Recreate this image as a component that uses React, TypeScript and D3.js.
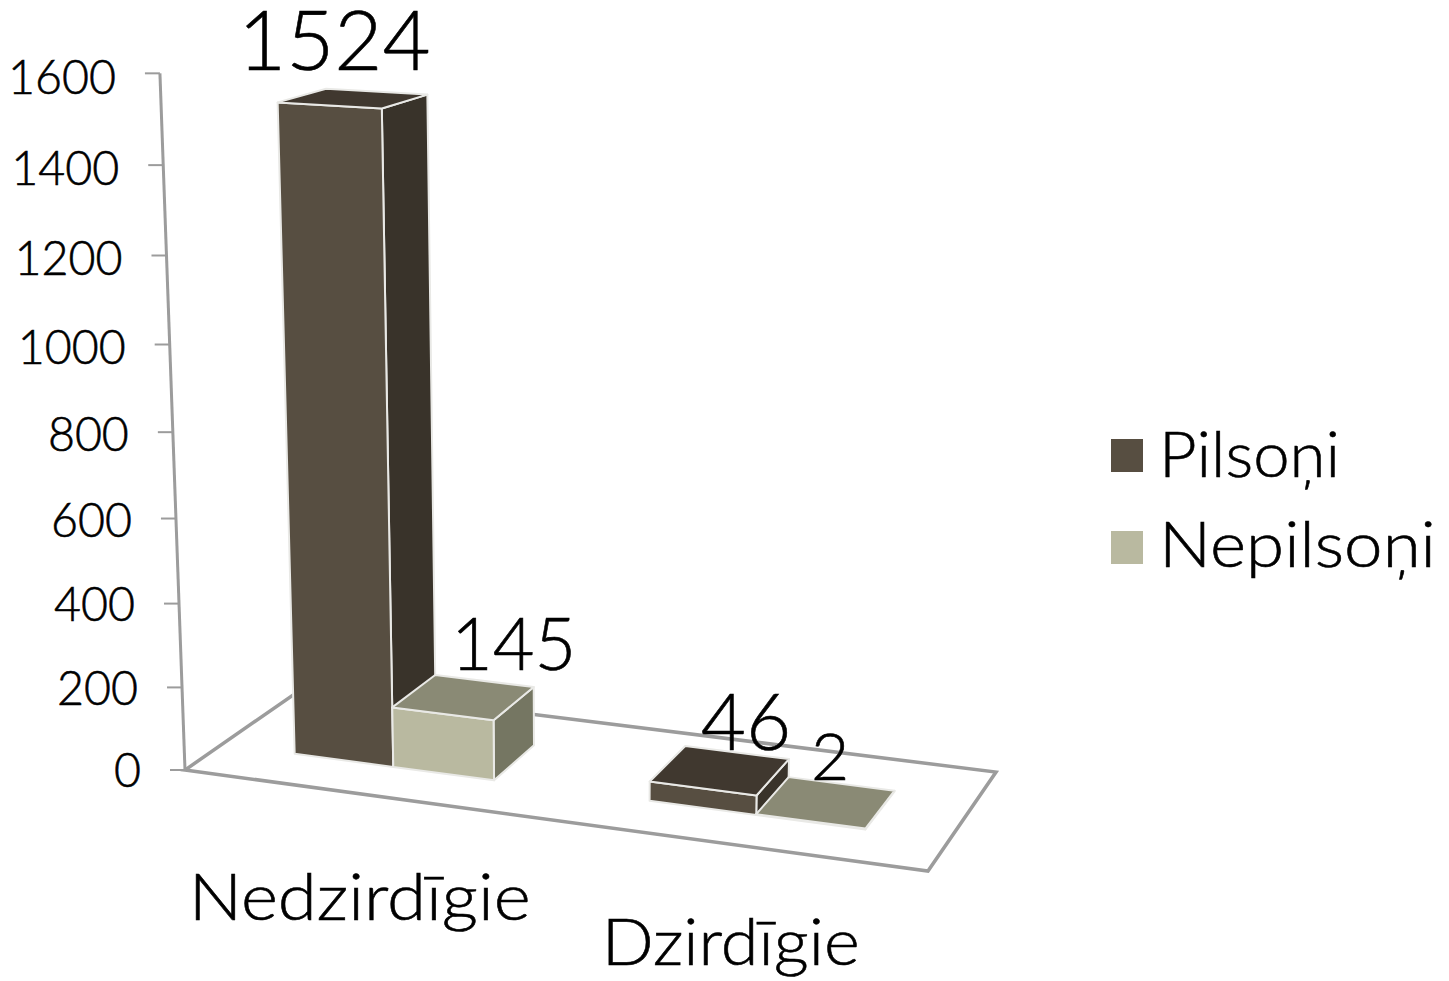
import React from "react";
import * as d3 from "d3";

const categories = ["Nedzirdīgie", "Dzirdīgie"];
const seriesNames = ["Pilsoņi", "Nepilsoņi"];
const pilsoni = [1524, 46];
const nepilsoni = [145, 2];
const seriesValues = [pilsoni, nepilsoni];
const yTicks = [0, 200, 400, 600, 800, 1000, 1200, 1400, 1600];

const FONT = "Lato, 'Noto Sans', sans-serif";

// series styling: front, top, side
const faceColors = [
  { front: "#574e41", top: "#40382f", side: "#39332a" },
  { front: "#b9b9a0", top: "#8a8a75", side: "#757662" },
];

// Perspective camera: floor homography (u,v in 0..1), plus vertical vanishing point
const H = { a: 670.5, b: 146.9, c: 185, d: 33, e: -26, f: 770, g: -0.0781, h: 0.0845 };
const VP: [number, number] = [588, 11970];
const heightK = 3.66e-5;

function project(u: number, v: number, val: number): [number, number] {
  const w = H.g * u + H.h * v + 1;
  const X = H.a * u + H.b * v + H.c;
  const Y = H.d * u + H.e * v + H.f;
  const k = -heightK * val;
  const ww = w + k;
  return [(X + k * VP[0]) / ww, (Y + k * VP[1]) / ww];
}

const catBand = d3.scaleBand<string>().domain(categories).range([0, 1]).padding(0);
const serBand = d3
  .scaleBand<string>()
  .domain(seriesNames)
  .range([0, catBand.bandwidth()])
  .paddingInner(0)
  .paddingOuter(0.75);
const depth = d3.scaleLinear().domain([0, 1]).range([0.29, 0.68]);

const poly = (pts: [number, number][]) => d3.line()(pts) + "Z";

// label nudges relative to the bar's top centre, [series][category]
const labelDx = [
  [-19, 26],
  [50, 4],
];
const labelDy = [
  [-28, -20],
  [-27, -22],
];
const labelSize = [
  [83, 78],
  [72, 66],
];
const catLabelWidth = [342, 258];
const legendWidth = [181, 277];

const textInk = { fill: "#000", stroke: "#000", strokeWidth: 0.6, fontWeight: 300 };

export default function App() {
  const axisBottom = project(0, 0, 0);
  const axisTop = project(0, 0, 1600);
  const floor: [number, number][] = [
    project(0, 0, 0),
    project(1, 0, 0),
    project(1, 1, 0),
    project(0, 1, 0),
  ];
  const grey = "#9c9c9c";
  const edge = "#e9e9e6";
  return (
    <svg
      width={1449}
      height={981}
      style={{ position: "absolute", left: 0, top: 0, display: "block", background: "#fff" }}
      fontFamily={FONT}
    >
      <path d={poly(floor)} fill="#fff" stroke={grey} strokeWidth={3.5} strokeLinejoin="miter" />
      <line x1={axisBottom[0]} y1={axisBottom[1]} x2={axisTop[0]} y2={axisTop[1]} stroke={grey} strokeWidth={3} />
      {yTicks.map((t) => {
        const [x, y] = project(0, 0, t);
        return (
          <g key={t}>
            <line x1={x - 15} x2={x} y1={y} y2={y} stroke={grey} strokeWidth={2} />
            <text x={x - 44} y={y + 17 + t / 500} textAnchor="end" fontSize={46.5} {...textInk}>
              {t}
            </text>
          </g>
        );
      })}
      {categories.map((cat, ci) =>
        seriesNames.map((s, si) => {
          const val = seriesValues[si][ci];
          const u0 = (catBand(cat) as number) + (serBand(s) as number);
          const u1 = u0 + serBand.bandwidth();
          const v0 = depth(0);
          const v1 = depth(1);
          const c = faceColors[si];
          const fbl = project(u0, v0, 0);
          const fbr = project(u1, v0, 0);
          const bbr = project(u1, v1, 0);
          const ftl = project(u0, v0, val);
          const ftr = project(u1, v0, val);
          const btl = project(u0, v1, val);
          const btr = project(u1, v1, val);
          return (
            <g key={s + cat} stroke={edge} strokeWidth={2} strokeLinejoin="round">
              <path d={poly([fbr, bbr, btr, ftr])} fill={c.side} />
              <path d={poly([fbl, fbr, ftr, ftl])} fill={c.front} />
              <path d={poly([ftl, ftr, btr, btl])} fill={c.top} />
            </g>
          );
        })
      )}
      {categories.map((cat, ci) =>
        seriesNames.map((s, si) => {
          const val = seriesValues[si][ci];
          const u = (catBand(cat) as number) + (serBand(s) as number) + serBand.bandwidth() / 2;
          const [x, y] = project(u, depth(0.5), val);
          return (
            <text key={s + cat} x={x + labelDx[si][ci]} y={y + labelDy[si][ci]} textAnchor="middle" fontSize={labelSize[si][ci]} {...textInk}>
              {val}
            </text>
          );
        })
      )}
      {categories.map((cat, ci) => {
        const u = (catBand(cat) as number) + catBand.bandwidth() / 2;
        const [x, y] = project(u, 0, 0);
        return (
          <text
            key={cat}
            x={x}
            y={y + (ci === 0 ? 126 : 121)}
            textAnchor="middle"
            fontSize={66}
            textLength={catLabelWidth[ci]}
            lengthAdjust="spacingAndGlyphs"
            {...textInk}
          >
            {cat}
          </text>
        );
      })}
      {seriesNames.map((s, i) => (
        <g key={s}>
          <rect x={1111} y={439 + i * 92} width={32} height={33} fill={faceColors[i].front} />
          <text
            x={1159}
            y={477 + i * 90}
            fontSize={64}
            textLength={legendWidth[i]}
            lengthAdjust="spacingAndGlyphs"
            {...textInk}
          >
            {s}
          </text>
        </g>
      ))}
    </svg>
  );
}
